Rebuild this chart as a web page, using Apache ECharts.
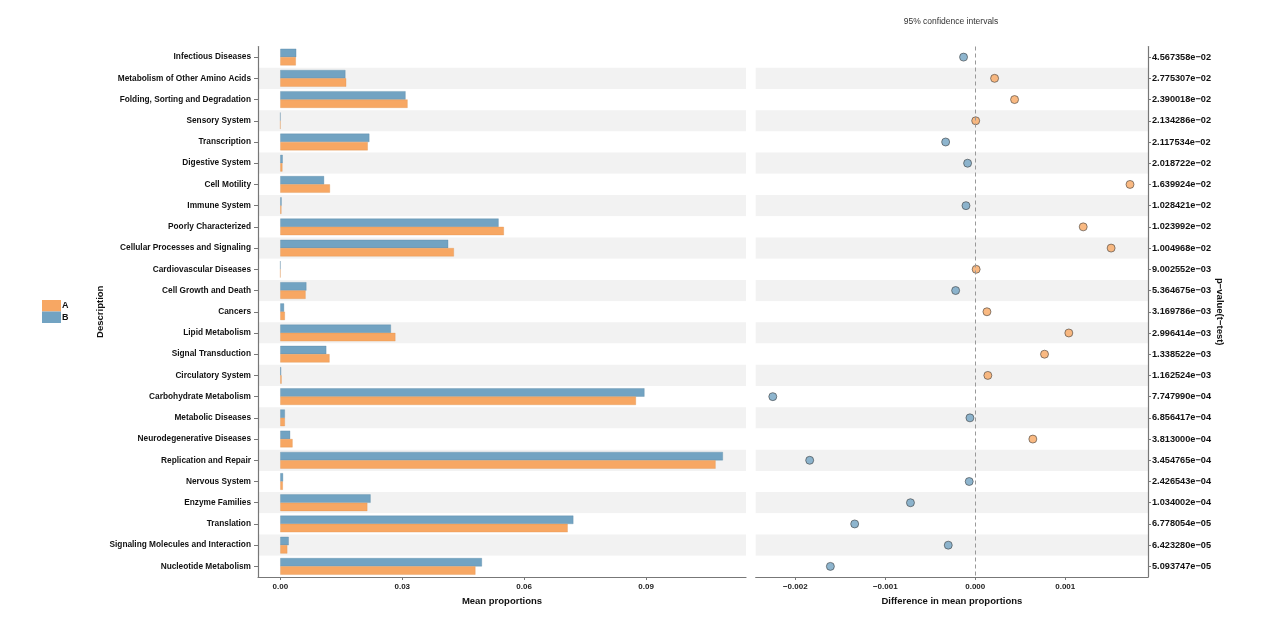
<!DOCTYPE html>
<html>
<head>
<meta charset="utf-8">
<script src="https://cdn.jsdelivr.net/npm/echarts@6/dist/echarts.min.js"></script>
<style>
  html, body { margin: 0; padding: 0; background: #fff; }
  #chart { width: 1270px; height: 618px; }
</style>
</head>
<body>
<div id="chart"></div>
<script>
//---------------------------Data---------------------------
let categories = [
  'Infectious Diseases', 'Metabolism of Other Amino Acids', 'Folding, Sorting and Degradation',
  'Sensory System', 'Transcription', 'Digestive System', 'Cell Motility', 'Immune System',
  'Poorly Characterized', 'Cellular Processes and Signaling', 'Cardiovascular Diseases',
  'Cell Growth and Death', 'Cancers', 'Lipid Metabolism', 'Signal Transduction',
  'Circulatory System', 'Carbohydrate Metabolism', 'Metabolic Diseases',
  'Neurodegenerative Diseases', 'Replication and Repair', 'Nervous System',
  'Enzyme Families', 'Translation', 'Signaling Molecules and Interaction', 'Nucleotide Metabolism'
];

//mean proportions of group A (orange) and B (blue)
let propA = [0.0038, 0.0162, 0.0313, 0.00001, 0.0215, 0.0005, 0.0122, 0.00025, 0.0550, 0.0427, 0.00001,
  0.0062, 0.0011, 0.0283, 0.0121, 0.0003, 0.0875, 0.0011, 0.0030, 0.1071, 0.0006, 0.0214, 0.0707, 0.0017, 0.0480];
let propB = [0.0039, 0.0160, 0.0308, 0.00001, 0.0219, 0.00057, 0.01075, 0.0003, 0.0537, 0.0413, 0.00001,
  0.0064, 0.0009, 0.0272, 0.0113, 0.0002, 0.0896, 0.0011, 0.0024, 0.1089, 0.00066, 0.0222, 0.0721, 0.00205, 0.0496];

//difference in mean proportions
let meanDiff = [-0.00013, 0.000215, 0.000437, 0.000005, -0.000329, -0.000085, 0.00172, -0.000103, 0.0012,
  0.00151, 0.00001, -0.000218, 0.00013, 0.00104, 0.00077, 0.00014, -0.00225, -0.000059, 0.00064,
  -0.00184, -0.000067, -0.00072, -0.00134, -0.0003, -0.00161];

let pValues = [
  '4.567358e\u221202', '2.775307e\u221202', '2.390018e\u221202', '2.134286e\u221202', '2.117534e\u221202',
  '2.018722e\u221202', '1.639924e\u221202', '1.028421e\u221202', '1.023992e\u221202', '1.004968e\u221202',
  '9.002552e\u221203', '5.364675e\u221203', '3.169786e\u221203', '2.996414e\u221203', '1.338522e\u221203',
  '1.162524e\u221203', '7.747990e\u221204', '6.856417e\u221204', '3.813000e\u221204', '3.454765e\u221204',
  '2.426543e\u221204', '1.034002e\u221204', '6.778054e\u221205', '6.423280e\u221205', '5.093747e\u221205'
];

let propTicks = [0, 0.03, 0.06, 0.09];
let diffTicks = [-0.002, -0.001, 0, 0.001];

//---------------------------UI---------------------------
let chart = echarts.init(document.getElementById('chart'));

let colorA = '#f7a763';
let colorB = '#72a3c2';
let fontFamily = "'Liberation Sans', Arial, sans-serif";
let axisGrey = '#777';

let dotData = [];
for (let i = 0; i < meanDiff.length; i++) {
  dotData.push({
    value: [meanDiff[i], i],
    itemStyle: { color: meanDiff[i] >= 0 ? colorA : colorB }
  });
}

let option = {
  animation: false,
  backgroundColor: '#fff',
  textStyle: { fontFamily: fontFamily },
  legend: {
    orient: 'vertical',
    left: 42,
    top: 300,
    padding: 0,
    itemGap: 0,
    itemWidth: 19,
    itemHeight: 11.5,
    icon: 'rect',
    data: ['A', 'B'],
    itemStyle: { borderWidth: 0 },
    textStyle: { fontSize: 9, fontWeight: 'bold', color: '#111', padding: [0, 0, 0, -4] }
  },
  graphic: [{
    type: 'text',
    x: 951,
    y: 22,
    style: {
      text: '95% confidence intervals',
      fill: '#333',
      font: "8.5px 'Liberation Sans', Arial, sans-serif",
      align: 'center',
      verticalAlign: 'middle'
    }
  }],
  grid: [
    { left: 258, top: 46.5, width: 488, height: 530.5 },
    { left: 755.7, top: 46.5, width: 392.3, height: 530.5 }
  ],
  xAxis: [{
    gridIndex: 0,
    type: 'value',
    min: -0.0055,
    max: 0.1146,
    splitLine: { show: false },
    axisLine: { show: true, onZero: false, lineStyle: { color: axisGrey, width: 1.2 } },
    axisTick: { show: true, customValues: propTicks, length: 3, lineStyle: { color: axisGrey } },
    axisLabel: {
      customValues: propTicks, fontSize: 8, fontWeight: 'bold', color: '#222', margin: 6,
      formatter: function (v) { return v.toFixed(2); }
    },
    name: 'Mean proportions',
    nameLocation: 'middle',
    nameGap: 17,
    nameTextStyle: { fontSize: 9.5, fontWeight: 'bold', color: '#111' }
  }, {
    gridIndex: 1,
    type: 'value',
    min: -0.00244,
    max: 0.00192,
    splitLine: { show: false },
    axisLine: { show: true, onZero: false, lineStyle: { color: axisGrey, width: 1.2 } },
    axisTick: { show: true, customValues: diffTicks, length: 3, lineStyle: { color: axisGrey } },
    axisLabel: {
      customValues: diffTicks, fontSize: 8, fontWeight: 'bold', color: '#222', margin: 6,
      formatter: function (v) { return (Math.abs(v) < 1e-12 ? 0 : v).toFixed(3).replace('-', '\u2212'); }
    },
    name: 'Difference in mean proportions',
    nameLocation: 'middle',
    nameGap: 17,
    nameTextStyle: { fontSize: 9.5, fontWeight: 'bold', color: '#111' }
  }],
  yAxis: [{
    gridIndex: 0,
    type: 'category',
    data: categories,
    inverse: true,
    axisLine: { show: true, onZero: false, lineStyle: { color: axisGrey, width: 1.2 } },
    axisTick: { show: true, length: 4, alignWithLabel: true, lineStyle: { color: axisGrey } },
    axisLabel: { fontSize: 8.3, fontWeight: 'bold', color: '#111', margin: 7 },
    splitLine: { show: false },
    splitArea: { show: true, areaStyle: { color: ['#ffffff', '#f2f2f2'] } },
    name: 'Description',
    nameLocation: 'middle',
    nameRotate: 90,
    nameGap: 151,
    nameTextStyle: { fontSize: 9.5, fontWeight: 'bold', color: '#111' }
  }, {
    gridIndex: 1,
    type: 'category',
    data: pValues,
    inverse: true,
    position: 'right',
    axisLine: { show: true, onZero: false, lineStyle: { color: axisGrey, width: 1.2 } },
    axisTick: { show: true, length: 3, alignWithLabel: true, lineStyle: { color: axisGrey } },
    axisLabel: { fontSize: 9.2, fontWeight: 'bold', color: '#111', margin: 4 },
    splitLine: { show: false },
    splitArea: { show: true, areaStyle: { color: ['#ffffff', '#f2f2f2'] } },
    name: 'p\u2212value(t\u2212test)',
    nameLocation: 'middle',
    nameRotate: -90,
    nameGap: 67,
    nameTextStyle: { fontSize: 9.5, fontWeight: 'bold', color: '#111' }
  }],
  series: [{
    name: 'B',
    type: 'bar',
    xAxisIndex: 0,
    yAxisIndex: 0,
    data: propB,
    barWidth: 8.3,
    barGap: '0%',
    itemStyle: { color: colorB, borderColor: '#4f7f9c', borderWidth: 0.3 }
  }, {
    name: 'A',
    type: 'bar',
    xAxisIndex: 0,
    yAxisIndex: 0,
    data: propA,
    barWidth: 8.3,
    barGap: '0%',
    itemStyle: { color: colorA, borderColor: '#d98a45', borderWidth: 0.3 }
  }, {
    name: 'diff',
    type: 'scatter',
    xAxisIndex: 1,
    yAxisIndex: 1,
    data: dotData,
    symbolSize: 8,
    itemStyle: { borderColor: '#333', borderWidth: 0.7 },
    markLine: {
      silent: true,
      symbol: 'none',
      label: { show: false },
      lineStyle: { type: [4, 3], color: '#999', width: 1 },
      data: [{ xAxis: 0 }]
    }
  }]
};

chart.setOption(option);
</script>
</body>
</html>
